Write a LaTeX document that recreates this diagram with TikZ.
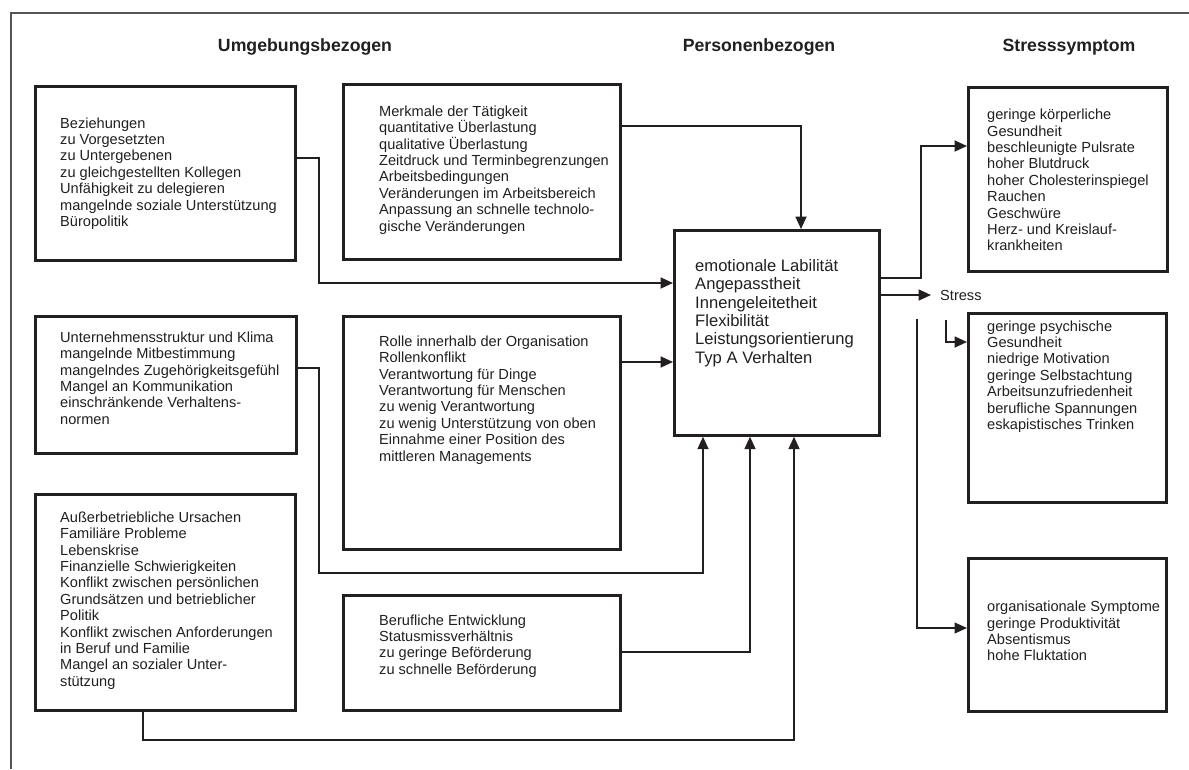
\documentclass[tikz,border=0pt]{standalone}
\usepackage{fontspec}
\setmainfont{Liberation Sans}
\usetikzlibrary{arrows.meta}
\definecolor{ink}{HTML}{231F20}
\definecolor{framegray}{HTML}{555555}
\begin{document}
\begin{tikzpicture}[x=1pt,y=-1pt,
  box/.style={draw=ink, line width=2.7pt, inner sep=0pt, anchor=north west},
  txt/.style={align=left, inner sep=0pt, anchor=west, text=ink, font=\fontsize{14.6}{16.4}\selectfont},
  bigtxt/.style={align=left, inner sep=0pt, anchor=west, text=ink, font=\fontsize{16.6}{18.4}\selectfont},
  head/.style={inner sep=0pt, text=ink, font=\bfseries\fontsize{17.7}{20}\selectfont},
  conn/.style={draw=ink, line width=1.8pt},
  arr/.style={conn, -{Triangle[length=12.5pt,width=11pt]}},
  thinarr/.style={draw=ink, line width=1.2pt, -{Triangle[length=12.5pt,width=11pt]}},
  frameline/.style={draw=framegray, line width=1.1pt}]
\useasboundingbox (0,0) rectangle (1189,769);
\fill[white] (0,0) rectangle (1189,769);
\draw[frameline] (11,769) -- (11,13) -- (1189,13);

% headings
\node[head] (h1) at (305,47) {Umgebungsbezogen};
\node[head] (h2) at (759,47) {Personenbezogen};
\node[head] (h3) at (1069,47) {Stresssymptom};

% boxes
\node[box, minimum width=260pt, minimum height=174pt] (b1) at (34,85) {};
\node[box, minimum width=277pt, minimum height=175pt] (b2) at (342,83) {};
\node[box, minimum width=277pt, minimum height=233pt] (b3) at (342,315) {};
\node[box, minimum width=261pt, minimum height=137pt] (b4) at (34,315) {};
\node[box, minimum width=260pt, minimum height=216pt] (b5) at (34,493) {};
\node[box, minimum width=277pt, minimum height=115pt] (b6) at (342,594) {};
\node[box, minimum width=205pt, minimum height=205pt] (bc) at (673,229) {};
\node[box, minimum width=199pt, minimum height=184pt] (b7) at (967,86) {};
\node[box, minimum width=198pt, minimum height=189pt] (b8) at (967,312) {};
\node[box, minimum width=198pt, minimum height=153pt] (b9) at (967,557) {};

% texts
\node[txt] (t1) at (60,173.5) {Beziehungen\\zu Vorgesetzten\\zu Untergebenen\\zu gleichgestellten Kollegen\\Unfähigkeit zu delegieren\\mangelnde soziale Unterstützung\\Büropolitik};
\node[txt] (t2) at (379,170) {Merkmale der Tätigkeit\\quantitative Überlastung\\qualitative Überlastung\\Zeitdruck und Terminbegrenzungen\\Arbeitsbedingungen\\Veränderungen im Arbeitsbereich\\Anpassung an schnelle technolo-\\gische Veränderungen};
\node[txt] (t3) at (379,400) {Rolle innerhalb der Organisation\\Rollenkonflikt\\Verantwortung für Dinge\\Verantwortung für Menschen\\zu wenig Verantwortung\\zu wenig Unterstützung von oben\\Einnahme einer Position des\\mittleren Managements};
\node[txt] (t4) at (60,378) {Unternehmensstruktur und Klima\\mangelnde Mitbestimmung\\mangelndes Zugehörigkeitsgefühl\\Mangel an Kommunikation\\einschränkende Verhaltens-\\normen};
\node[txt] (t5) at (60,600.5) {Außerbetriebliche Ursachen\\Familiäre Probleme\\Lebenskrise\\Finanzielle Schwierigkeiten\\Konflikt zwischen persönlichen\\Grundsätzen und betrieblicher\\Politik\\Konflikt zwischen Anforderungen\\in Beruf und Familie\\Mangel an sozialer Unter-\\stützung};
\node[txt] (t6) at (379,646) {Berufliche Entwicklung\\Statusmissverhältnis\\zu geringe Beförderung\\zu schnelle Beförderung};
\node[bigtxt] (tc) at (695,313) {emotionale Labilität\\Angepasstheit\\Innengeleitetheit\\Flexibilität\\Leistungsorientierung\\Typ A Verhalten};
\node[txt] (t7) at (987,180) {geringe körperliche\\Gesundheit\\beschleunigte Pulsrate\\hoher Blutdruck\\hoher Cholesterinspiegel\\Rauchen\\Geschwüre\\Herz- und Kreislauf-\\krankheiten};
\node[txt] (t8) at (987,376.5) {geringe psychische\\Gesundheit\\niedrige Motivation\\geringe Selbstachtung\\Arbeitsunzufriedenheit\\berufliche Spannungen\\eskapistisches Trinken};
\node[txt] (t9) at (987,631) {organisationale Symptome\\geringe Produktivität\\Absentismus\\hohe Fluktation};
\node[txt] (stress) at (940,295) {Stress};

% bend coordinates
\coordinate (k1a) at (319,158);
\coordinate (k1b) at (319,283);
\coordinate (k2a) at (801,126);
\coordinate (k3) at (0,362);
\coordinate (k4a) at (319,368);
\coordinate (k4b) at (319,573);
\coordinate (k4c) at (703,573);
\coordinate (k5a) at (750,652);
\coordinate (k6a) at (143,740);
\coordinate (k6b) at (794,740);
\coordinate (k7a) at (921,278);
\coordinate (k7b) at (921,146);
\coordinate (k8) at (931,295);
\coordinate (k9a) at (946,320);
\coordinate (k9b) at (946,342);
\coordinate (k10a) at (917,319);
\coordinate (k10b) at (917,628);

% connectors
\draw[arr] (b1.east |- k1a) -- (k1a) -- (k1b) -- (bc.west |- k1b);
\draw[arr] (b2.east |- k2a) -- (k2a) -- (k2a |- bc.north);
\draw[arr] (b3.east |- k3) -- (bc.west |- k3);
\draw[arr] (b4.east |- k4a) -- (k4a) -- (k4b) -- (k4c) -- (k4c |- bc.south);
\draw[arr] (b6.east |- k5a) -- (k5a) -- (k5a |- bc.south);
\draw[arr] (b5.south -| k6a) -- (k6a) -- (k6b) -- (k6b |- bc.south);
\draw[arr] (bc.east |- k7a) -- (k7a) -- (k7b) -- (b7.west |- k7b);
\draw[arr] (bc.east |- k8) -- (k8);
\draw[arr] (k9a) -- (k9b) -- (b8.west |- k9b);
\draw[thinarr] (k10a) -- (k10b) -- (b9.west |- k10b);
\end{tikzpicture}
\end{document}
